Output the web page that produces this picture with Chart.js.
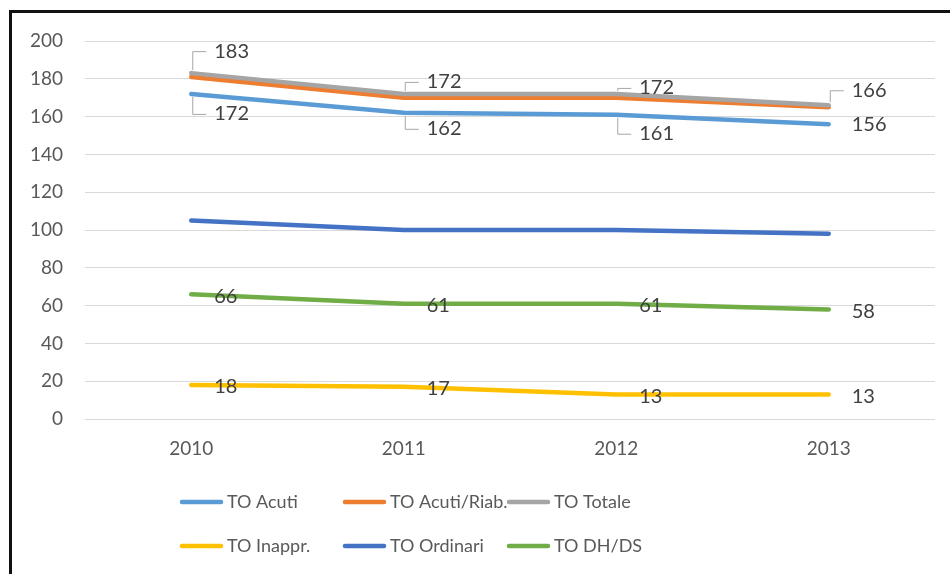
<!DOCTYPE html>
<html>
<head>
<meta charset="utf-8">
<script src="https://cdn.jsdelivr.net/npm/chart.js@4.4.0/dist/chart.umd.min.js"></script>
<style>
    html, body { margin: 0; padding: 0; background: #fff; }
    .frame {
        position: absolute; left: 9px; top: 10px;
        width: 941px; height: 564px;
        border-top: 3px solid #111; border-left: 3px solid #111;
        overflow: hidden;
    }
    canvas { display: block; }
</style>
</head>
<body>
<div class="frame"><canvas id="chart" width="938" height="561"></canvas></div>
<script>
/* ---- data ---- */
const years = ['2010', '2011', '2012', '2013'];
const toAcuti = [172, 162, 161, 156];
const toAcutiRiab = [181, 170, 170, 165];
const toTotale = [183, 172, 172, 166];
const toInappr = [18, 17, 13, 13];
const toOrdinari = [105, 100, 100, 98];
const toDhDs = [66, 61, 61, 58];
const yTicks = [0, 20, 40, 60, 80, 100, 120, 140, 160, 180, 200];

const FONT = 'Lato, "Open Sans", sans-serif';

// label placement per series: vertical offset from the point and whether a leader line is drawn
const labelStyle = {
    'TO Acuti': { dy: [20, 16, 19, 0], leader: [true, true, true, false] },
    'TO Totale': { dy: [-22, -12, -6, -15], leader: [true, true, true, true] },
    'TO Inappr.': { dy: [2, 2, 2, 2], leader: [false, false, false, false] },
    'TO DH/DS': { dy: [2, 2, 2, 2], leader: [false, false, false, false] },
};

const series = [
    { label: 'TO Acuti', data: toAcuti, color: '#5B9BD5' },
    { label: 'TO Acuti/Riab.', data: toAcutiRiab, color: '#ED7D31' },
    { label: 'TO Totale', data: toTotale, color: '#A5A5A5' },
    { label: 'TO Inappr.', data: toInappr, color: '#FFC000' },
    { label: 'TO Ordinari', data: toOrdinari, color: '#4472C4' },
    { label: 'TO DH/DS', data: toDhDs, color: '#70AD47' },
];

// value labels with Excel-like leader lines
const valueLabels = {
    id: 'valueLabels',
    afterDatasetsDraw(chart) {
        const ctx = chart.ctx;
        ctx.save();
        ctx.font = `20px ${FONT}`;
        ctx.fillStyle = '#404040';
        ctx.textAlign = 'left';
        ctx.textBaseline = 'middle';
        chart.data.datasets.forEach((ds, di) => {
            const st = labelStyle[ds.label];
            if (!st) return;
            chart.getDatasetMeta(di).data.forEach((pt, i) => {
                const x = pt.x, y = pt.y, dy = st.dy[i];
                if (st.leader[i]) {
                    const s = dy < 0 ? -1 : 1;
                    ctx.strokeStyle = '#a6a6a6';
                    ctx.lineWidth = 1;
                    ctx.beginPath();
                    ctx.moveTo(x + 1.5, y + s * 3);
                    ctx.lineTo(x + 1.5, y + dy + 0.5);
                    ctx.lineTo(x + 15, y + dy + 0.5);
                    ctx.stroke();
                }
                ctx.fillText(ds.data[i], x + 23, y + dy);
            });
        });
        ctx.restore();
    }
};

// legend laid out as a 3x2 grid like the reference
const gridLegend = {
    id: 'gridLegend',
    afterDraw(chart) {
        const ctx = chart.ctx;
        const cols = [168, 331, 495], rows = [489, 533];
        ctx.save();
        ctx.font = `18px ${FONT}`;
        ctx.fillStyle = '#595959';
        ctx.textAlign = 'left';
        ctx.textBaseline = 'middle';
        ctx.lineCap = 'round';
        chart.data.datasets.forEach((ds, i) => {
            const x = cols[i % 3], y = rows[Math.floor(i / 3)];
            ctx.strokeStyle = ds.borderColor;
            ctx.lineWidth = 4.5;
            ctx.beginPath();
            ctx.moveTo(x + 2, y);
            ctx.lineTo(x + 41, y);
            ctx.stroke();
            ctx.fillText(ds.label, x + 47, y);
        });
        ctx.restore();
    }
};

new Chart(document.getElementById('chart'), {
    type: 'line',
    data: {
        labels: years,
        datasets: series.map((s, i) => ({
            label: s.label, data: s.data,
            borderColor: s.color, backgroundColor: s.color,
            borderWidth: 4.5, borderCapStyle: 'round', borderJoinStyle: 'round',
            pointRadius: 0, tension: 0, order: series.length - i,
        })),
    },
    options: {
        responsive: false, animation: false,
        layout: { padding: { left: 0, right: 15, top: 28, bottom: 110 } },
        plugins: { legend: { display: false }, tooltip: { enabled: false } },
        scales: {
            x: {
                offset: true,
                grid: { display: false, drawTicks: false },
                border: { display: false },
                ticks: { color: '#595959', font: { family: FONT, size: 19 }, padding: 18 },
                afterFit(scale) { scale.height = 45; scale.paddingLeft = 0; scale.paddingRight = 0; },
            },
            y: {
                min: 0, max: 200,
                afterBuildTicks(scale) { scale.ticks = yTicks.map(v => ({ value: v })); },
                grid: { color: '#d9d9d9', lineWidth: 1, drawTicks: false },
                border: { display: false },
                ticks: { color: '#595959', font: { family: FONT, size: 19 }, padding: 22 },
                afterFit(scale) { scale.width = 73; scale.paddingTop = 0; scale.paddingBottom = 0; },
            },
        },
    },
    plugins: [valueLabels, gridLegend],
});
</script>
</body>
</html>
